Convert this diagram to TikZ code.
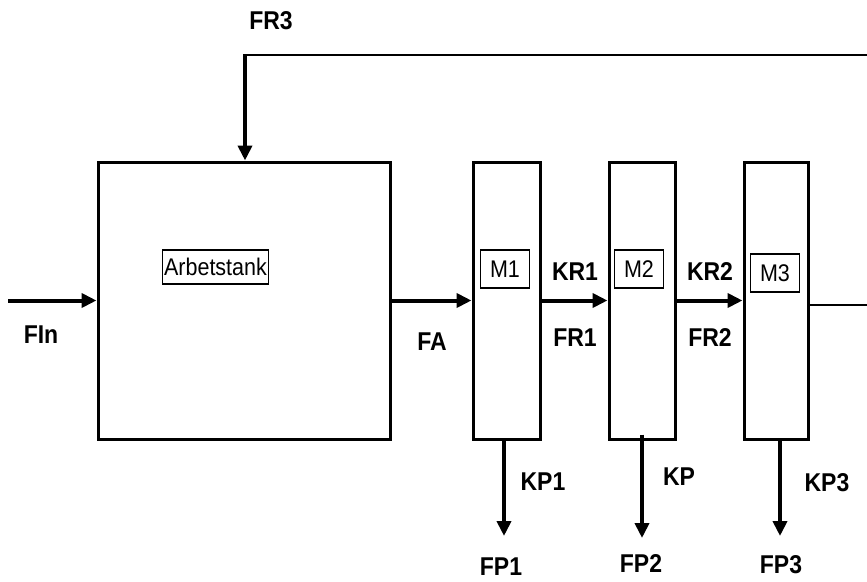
\documentclass[tikz,border=0pt]{standalone}
\usepackage{fontspec}
\usepackage{graphicx}
\setmainfont{Liberation Sans}
\usetikzlibrary{arrows.meta}

% text in the source is a little taller than wide
\newcommand{\tallt}[1]{\scalebox{1}[1.12]{#1}}

\tikzset{
  unit/.style={draw, line width=3pt, inner sep=0pt},
  tag/.style={draw, line width=1.5pt, inner sep=0pt, minimum height=38pt,
    font=\fontsize{21.5}{26}\selectfont},
  lbl/.style={font=\bfseries\fontsize{23}{26}\selectfont}
}

\begin{document}
\begin{tikzpicture}[x=1pt, y=-1pt, >={Triangle[length=15pt,width=14pt]},
    line join=miter]
  \useasboundingbox (0,0) rectangle (867,581);

  % Tank and membrane columns
  \node[unit, minimum width=292pt, minimum height=277pt] (tank) at (244,300.5) {};
  \node[unit, minimum width=67pt, minimum height=277pt] (m1) at (506.5,300.5) {};
  \node[unit, minimum width=66pt, minimum height=277pt] (m2) at (642,300.5) {};
  \node[unit, minimum width=64pt, minimum height=277pt] (m3) at (776,300.5) {};

  % Inner labels
  \node[tag, minimum width=106pt, minimum height=34pt] (tanktag) at (215.5,267) {\tallt{Arbetstank}};
  \node[tag, minimum width=49pt] (m1tag) at (505,269) {\tallt{M1}};
  \node[tag, minimum width=49pt] (m2tag) at (639,269) {\tallt{M2}};
  \node[tag, minimum width=49pt] (m3tag) at (775,273) {\tallt{M3}};

  % Free ends
  \coordinate (in) at (8,300.5);
  \coordinate (out) at (867,305);
  \coordinate (fbR) at (867,55);
  \coordinate (fbL) at (245,55);
  \coordinate (p1) at (504,536);
  \coordinate (p2) at (642,538);
  \coordinate (p3) at (780,536);

  % Flows
  \draw[->, line width=4pt] (in) -- (tank.west);
  \draw[->, line width=4pt] (tank.east) -- (m1.west);
  \draw[->, line width=4pt] (m1.east) -- (m2.west);
  \draw[->, line width=4pt] (m2.east) -- (m3.west);
  \draw[line width=2pt] (m3.east |- out) -- (out);

  % Recycle
  \draw[line width=2pt] (fbR) -- (fbL);
  \draw[->, line width=4pt] ([yshift=1pt]fbL) -- (fbL |- tank.north);

  % Permeate
  \draw[->, line width=4pt] (p1 |- m1.south) -- (p1);
  \draw[->, line width=4pt] ([yshift=6pt]p2 |- m2.south) -- (p2);
  \draw[->, line width=4pt] (p3 |- m3.south) -- (p3);

  % Labels
  \node[lbl] (fin) at (41,335) {\tallt{FIn}};
  \node[lbl] (fa) at (432,342) {\tallt{FA}};
  \node[lbl] (kr1) at (575,272) {\tallt{KR1}};
  \node[lbl] (fr1) at (575,338) {\tallt{FR1}};
  \node[lbl] (kr2) at (710,272) {\tallt{KR2}};
  \node[lbl] (fr2) at (710,338) {\tallt{FR2}};
  \node[lbl] (fr3) at (271,21) {\tallt{FR3}};
  \node[lbl] (kp1) at (543,482) {\tallt{KP1}};
  \node[lbl] (kp) at (679,477) {\tallt{KP}};
  \node[lbl] (kp3) at (827,483) {\tallt{KP3}};
  \node[lbl] (fp1) at (501,567) {\tallt{FP1}};
  \node[lbl] (fp2) at (641,563) {\tallt{FP2}};
  \node[lbl] (fp3) at (781,565) {\tallt{FP3}};
\end{tikzpicture}
\end{document}
